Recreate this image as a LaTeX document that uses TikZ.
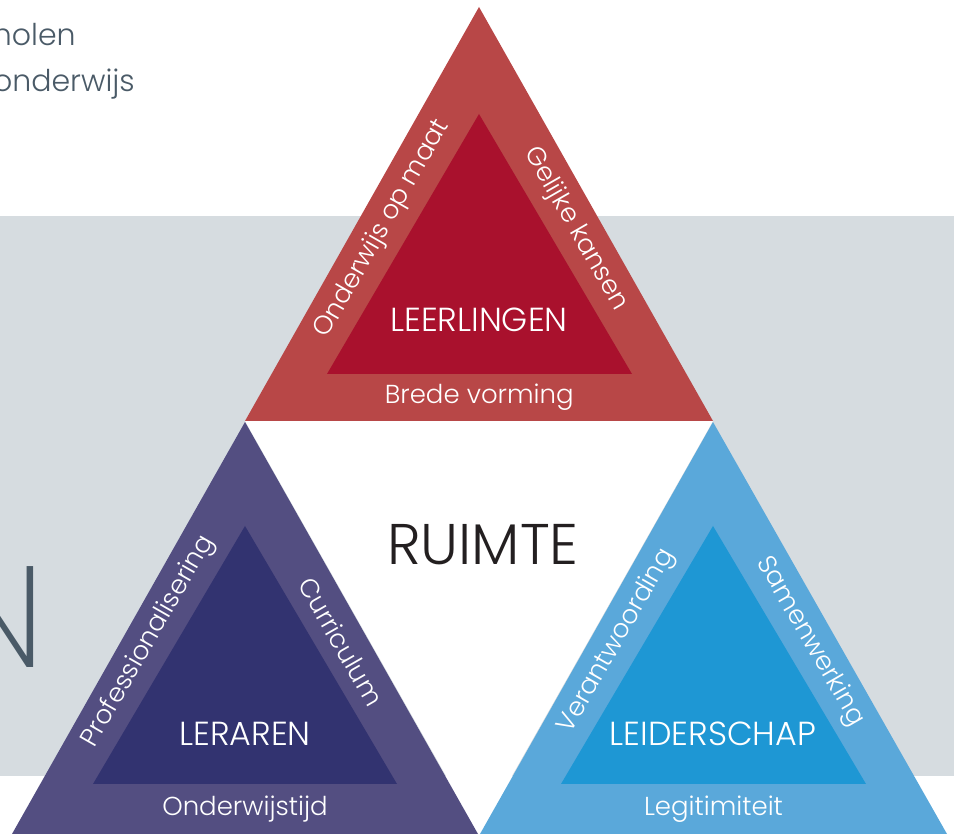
\documentclass[tikz,border=0pt]{standalone}
\usepackage{fontspec}
\IfFontExistsTF{Poppins Light}{\setmainfont{Poppins Light}}{\setmainfont{Poppins}}
\IfFontExistsTF{Poppins ExtraLight}{\newfontfamily\thinfont{Poppins ExtraLight}}{\newfontfamily\thinfont{Poppins Light}}
\usetikzlibrary{calc}

\definecolor{bandgray}{HTML}{D6DCE0}
\definecolor{slate}{HTML}{4A5A67}
\definecolor{inkblack}{HTML}{231F20}
\definecolor{redout}{HTML}{B84747}
\definecolor{redin}{HTML}{A9112D}
\definecolor{purpout}{HTML}{534E81}
\definecolor{purpin}{HTML}{323370}
\definecolor{blueout}{HTML}{5AA8DA}
\definecolor{bluein}{HTML}{1E97D4}

\begin{document}
\begin{tikzpicture}[x=0.75pt,y=0.75pt,
    sidelabel/.style={text=white, inner sep=0pt, sloped, font=\fontsize{19.5}{20}\selectfont},
    mainlabel/.style={text=white, inner sep=0pt, font=\fontsize{25}{27}\selectfont}]
  \useasboundingbox (0,0) rectangle (954,834);
  \begin{scope}
    \clip (0,0) rectangle (954,834);

    % grey band behind the triangles
    \fill[bandgray] (0,58) rectangle (954,618);

    % page text cut off at the left
    \node[text=slate, anchor=base east, inner sep=0pt, font=\fontsize{22.5}{24}\selectfont] (scholen) at (76,788) {holen};
    \node[text=slate, anchor=base east, inner sep=0pt, font=\fontsize{22.5}{24}\selectfont] (onderwijs) at (135,742) {onderwijs};
    \node[text=slate, anchor=base east, inner sep=0pt, font=\thinfont\fontsize{108}{110}\selectfont] (bigN) at (46,166) {N};

    % white space in the middle
    \fill[white] (245,413) -- (713,413) -- (479,0) -- cycle;

    % LEERLINGEN triangle on top
    \fill[redout] (245,413) -- (713,413) -- (479,827) -- cycle;
    \fill[redin] (327,460) -- (632,460) -- (479,720) -- cycle;

    % LERAREN triangle bottom left
    \fill[purpout] (12,0) -- (478,0) -- (245,412) -- cycle;
    \fill[purpin] (93,50) -- (397,50) -- (245,308) -- cycle;

    % LEIDERSCHAP triangle bottom right
    \fill[blueout] (480,0) -- (947,0) -- (713,412) -- cycle;
    \fill[bluein] (561,50) -- (866,50) -- (713,308) -- cycle;
  \end{scope}

  % names inside the triangles
  \node[mainlabel] (leerlingen) at (479,514) {LEERLINGEN};
  \node[mainlabel] (leraren) at (245,100) {LERAREN};
  \node[mainlabel] (leiderschap) at (713,100) {LEIDERSCHAP};
  \node[text=inkblack, inner sep=0pt, font=\fontsize{43}{45}\selectfont] (ruimte) at (483,289) {RUIMTE};

  % labels along the sides of the top triangle
  \path (286,436.5) -- (479,773.5) node[sidelabel, midway] (opmaat) {Onderwijs op maat};
  \path (479,773.5) -- (672.5,436.5) node[sidelabel, midway] (kansen) {Gelijke kansen};
  \path (286,436.5) -- (672.5,436.5) node[sidelabel, midway] (vorming) {Brede vorming};

  % labels along the sides of the bottom left triangle
  \path (52.5,25) -- (245,360) node[sidelabel, midway] (prof) {Professionalisering};
  \path (245,360) -- (437.5,25) node[sidelabel, midway] (curriculum) {Curriculum};
  \path (52.5,25) -- (437.5,25) node[sidelabel, midway] (tijd) {Onderwijstijd};

  % labels along the sides of the bottom right triangle
  \path (520.5,25) -- (713,360) node[sidelabel, midway] (verantw) {Verantwoording};
  \path (713,360) -- (906.5,25) node[sidelabel, midway] (samen) {Samenwerking};
  \path (520.5,25) -- (906.5,25) node[sidelabel, midway] (legit) {Legitimiteit};
\end{tikzpicture}
\end{document}
